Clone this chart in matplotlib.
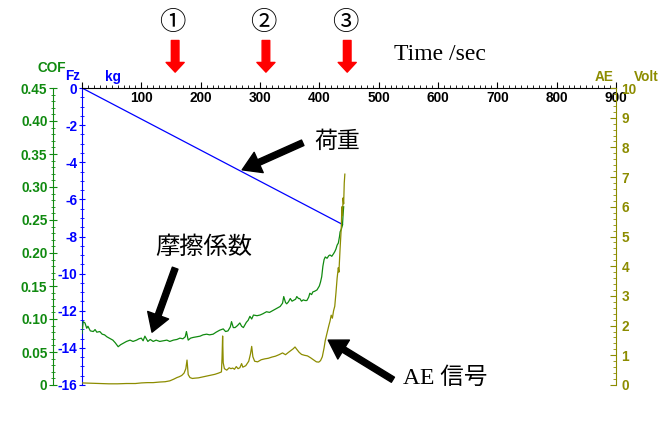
import matplotlib
matplotlib.use("Agg")
import matplotlib.pyplot as plt
from matplotlib.ticker import MultipleLocator, FuncFormatter

plt.rcParams['axes.unicode_minus'] = False

# friction coefficient (time [s], COF)
cof_t = [0, 2, 5, 8, 10, 14, 19, 22, 25, 30, 34, 38, 42, 46, 52, 56, 61, 65, 69, 75,
         81, 86, 92, 96, 100, 103, 106, 111, 115, 120, 125, 131, 137, 143, 148, 154, 160, 165, 170, 174,
         176, 179, 183, 187, 193, 199, 204, 210, 215, 221, 226, 232, 238, 242, 246, 250, 252, 255, 258, 262,
         266, 269, 272, 277, 280, 283, 286, 289, 295, 300, 305, 311, 316, 322, 328, 334, 338, 340, 343, 345,
         348, 351, 354, 356, 360, 362, 365, 367, 370, 373, 376, 379, 382, 384, 387, 389, 392, 396, 400, 402,
         404, 406, 408, 410, 413, 416, 418, 421, 424, 426, 428, 430, 432, 434, 435, 437, 439, 440, 441]
cof = [0.078, 0.096, 0.094, 0.086, 0.089, 0.082, 0.081, 0.084, 0.080, 0.081, 0.077, 0.076, 0.073, 0.071, 0.068, 0.064, 0.058, 0.061, 0.063, 0.066,
       0.068, 0.066, 0.068, 0.070, 0.071, 0.067, 0.074, 0.066, 0.069, 0.066, 0.068, 0.066, 0.067, 0.068, 0.066, 0.068, 0.069, 0.071, 0.070, 0.073,
       0.081, 0.068, 0.071, 0.072, 0.073, 0.074, 0.076, 0.077, 0.076, 0.077, 0.080, 0.083, 0.085, 0.081, 0.082, 0.088, 0.096, 0.087, 0.087, 0.090,
       0.094, 0.089, 0.087, 0.095, 0.098, 0.104, 0.100, 0.106, 0.105, 0.106, 0.108, 0.111, 0.110, 0.113, 0.116, 0.119, 0.124, 0.134, 0.125, 0.123,
       0.126, 0.131, 0.127, 0.128, 0.130, 0.134, 0.131, 0.131, 0.127, 0.129, 0.128, 0.128, 0.133, 0.139, 0.137, 0.141, 0.142, 0.144, 0.150, 0.156,
       0.164, 0.180, 0.190, 0.194, 0.192, 0.196, 0.197, 0.195, 0.199, 0.202, 0.206, 0.212, 0.215, 0.225, 0.232, 0.236, 0.242, 0.258, 0.270]

# acoustic emission (time [s], Volt)
ae_t = [0, 15, 30, 45, 60, 75, 90, 100, 110, 120, 131, 140, 148, 155, 160, 164, 168, 172, 175, 177,
        179, 182, 186, 190, 196, 203, 210, 217, 224, 230, 235, 236, 237, 238, 240, 244, 248, 251, 254, 257,
        260, 263, 266, 269, 271, 276, 281, 284, 286, 288, 291, 296, 302, 308, 314, 320, 326, 332, 338, 343,
        348, 352, 356, 359, 362, 366, 370, 375, 380, 385, 390, 395, 399, 402, 405, 408, 410, 413, 416, 418,
        420, 422, 424, 426, 428, 430, 432, 433, 435, 437, 438, 439, 440, 441, 442, 443]
ae = [0.07, 0.06, 0.05, 0.04, 0.04, 0.05, 0.05, 0.07, 0.08, 0.08, 0.10, 0.11, 0.14, 0.20, 0.25, 0.28, 0.32, 0.40, 0.55, 0.84,
      0.35, 0.25, 0.22, 0.23, 0.24, 0.27, 0.30, 0.33, 0.36, 0.40, 0.44, 0.90, 1.65, 0.75, 0.55, 0.50, 0.58, 0.55, 0.57, 0.53,
      0.62, 0.55, 0.58, 0.72, 0.60, 0.65, 0.80, 1.05, 1.30, 0.95, 0.80, 0.78, 0.85, 0.88, 0.90, 0.94, 0.97, 1.02, 1.08, 1.02,
      1.10, 1.16, 1.22, 1.28, 1.20, 1.10, 1.03, 1.00, 0.98, 0.92, 0.85, 0.78, 0.77, 0.82, 0.95, 1.25, 1.50, 1.75, 2.00, 2.15,
      2.35, 2.25, 2.50, 2.65, 3.10, 3.60, 3.95, 3.80, 4.60, 5.30, 6.00, 5.70, 6.30, 6.10, 6.80, 7.10]

# normal load (time [s], kg)
fz_t = [0, 439]
fz = [0, -7.35]

marker_times = [157, 310, 447]
marker_labels = ['①', '②', '③']
time_ticks = list(range(0, 1000, 100))

BLUE = '#0000ff'
GREEN = '#108a10'
OLIVE = '#8c8c00'
tick_font = dict(family='Liberation Sans', weight='bold', size=9.8)
serif_cjk = ['Liberation Serif', 'DejaVu Serif', 'Noto Sans CJK JP']

fig = plt.figure(figsize=(6.7, 4.28), dpi=100)
rect = [82 / 670, 1 - 385 / 428, 534 / 670, 297 / 428]

# load axis (blue) + time axis on top
ax_fz = fig.add_axes(rect)
ax_fz.patch.set_visible(False)
ax_fz.set_xlim(0, 900)
ax_fz.set_ylim(-16, 0)
for s in ['right', 'bottom']:
    ax_fz.spines[s].set_visible(False)
ax_fz.spines['left'].set_color(BLUE)
ax_fz.spines['top'].set_color('black')
ax_fz.xaxis.tick_top()
ax_fz.set_xticks(time_ticks)
ax_fz.set_xticklabels([''] + [str(t) for t in time_ticks[1:]])
ax_fz.xaxis.set_minor_locator(MultipleLocator(10))
ax_fz.tick_params(axis='x', which='major', direction='out', length=4, pad=-16, colors='black')
ax_fz.tick_params(axis='x', which='minor', direction='out', length=2.5)
ax_fz.yaxis.set_major_locator(MultipleLocator(2))
ax_fz.yaxis.set_minor_locator(MultipleLocator(0.5))
ax_fz.tick_params(axis='y', which='major', direction='inout', length=5, pad=1, colors=BLUE)
ax_fz.tick_params(axis='y', which='minor', direction='inout', length=3, colors=BLUE)
for lab in ax_fz.get_xticklabels() + ax_fz.get_yticklabels():
    lab.set_fontproperties(tick_font)

# COF axis (green), offset to the left
ax_cof = fig.add_axes(rect, sharex=ax_fz)
ax_cof.patch.set_visible(False)
for s in ['right', 'top', 'bottom']:
    ax_cof.spines[s].set_visible(False)
ax_cof.spines['left'].set_position(('axes', -29 / 534))
ax_cof.spines['left'].set_color(GREEN)
ax_cof.set_ylim(0, 0.45)
ax_cof.yaxis.set_major_locator(MultipleLocator(0.05))
ax_cof.yaxis.set_minor_locator(MultipleLocator(0.01))
ax_cof.yaxis.set_major_formatter(FuncFormatter(lambda v, p: '0' if abs(v) < 1e-9 else '%.2f' % v))
ax_cof.tick_params(axis='y', which='major', direction='inout', length=6, pad=1, colors=GREEN)
ax_cof.tick_params(axis='y', which='minor', direction='inout', length=3, colors=GREEN)
ax_cof.tick_params(axis='x', which='both', bottom=False, top=False, labelbottom=False, labeltop=False)
for lab in ax_cof.get_yticklabels():
    lab.set_fontproperties(tick_font)

# AE axis (olive), right
ax_ae = fig.add_axes(rect, sharex=ax_fz)
ax_ae.patch.set_visible(False)
for s in ['left', 'top', 'bottom']:
    ax_ae.spines[s].set_visible(False)
ax_ae.spines['right'].set_color(OLIVE)
ax_ae.yaxis.tick_right()
ax_ae.set_ylim(0, 10)
ax_ae.yaxis.set_major_locator(MultipleLocator(1))
ax_ae.yaxis.set_minor_locator(MultipleLocator(0.2))
ax_ae.tick_params(axis='y', which='major', direction='in', length=4, pad=4, colors=OLIVE)
ax_ae.tick_params(axis='y', which='minor', direction='in', length=2, colors=OLIVE)
ax_ae.tick_params(axis='x', which='both', bottom=False, top=False, labelbottom=False, labeltop=False)
for lab in ax_ae.get_yticklabels():
    lab.set_fontproperties(tick_font)

# data
ax_ae.plot(ae_t, ae, color=OLIVE, lw=0.9)
ax_cof.plot(cof_t, cof, color=GREEN, lw=0.9)
ax_fz.plot(fz_t, fz, color=BLUE, lw=0.9)

# axis titles
fig.text(52 / 670, 1 - 68 / 428, 'COF', color=GREEN, ha='center', va='center', **tick_font)
fig.text(73 / 670, 1 - 76 / 428, 'Fz', color=BLUE, ha='center', va='center', **tick_font)
fig.text(113 / 670, 1 - 77 / 428, 'kg', color=BLUE, ha='center', va='center', **tick_font)
fig.text(604 / 670, 1 - 77 / 428, 'AE', color=OLIVE, ha='center', va='center', **tick_font)
fig.text(646 / 670, 1 - 77 / 428, 'Volt', color=OLIVE, ha='center', va='center', **tick_font)

# time markers
for t, lab in zip(marker_times, marker_labels):
    ax_cof.annotate('', xy=(t, 0.474), xytext=(t, 0.522), annotation_clip=False,
                    arrowprops=dict(facecolor='red', edgecolor='red', width=5.5,
                                    headwidth=13, headlength=7, shrink=0))
    ax_cof.text(t - 4, 0.548, lab, ha='center', va='center', fontsize=19,
                family=serif_cjk, clip_on=False)
ax_cof.text(603, 0.5, 'Time /sec', ha='center', va='center', fontsize=17,
            family=serif_cjk, clip_on=False)

# callouts
black_arrow = dict(facecolor='black', edgecolor='black', width=4.3,
                   headwidth=16, headlength=13, shrink=0)
ax_cof.annotate('', xy=(270, 0.326), xytext=(372, 0.367), arrowprops=black_arrow)
ax_cof.annotate('', xy=(118, 0.080), xytext=(157, 0.177), arrowprops=black_arrow)
ax_cof.annotate('', xy=(415, 0.068), xytext=(524, 0.008), arrowprops=black_arrow,
                annotation_clip=False)
ax_cof.text(431, 0.368, '荷重', ha='center', va='center', fontsize=16.5, family=serif_cjk)
ax_cof.text(205, 0.208, '摩擦係数', ha='center', va='center', fontsize=17.5, family=serif_cjk)
ax_cof.text(612, 0.011, 'AE 信号', ha='center', va='center', fontsize=17,
            family=serif_cjk, clip_on=False)

fig.savefig('out.png', dpi=100)
